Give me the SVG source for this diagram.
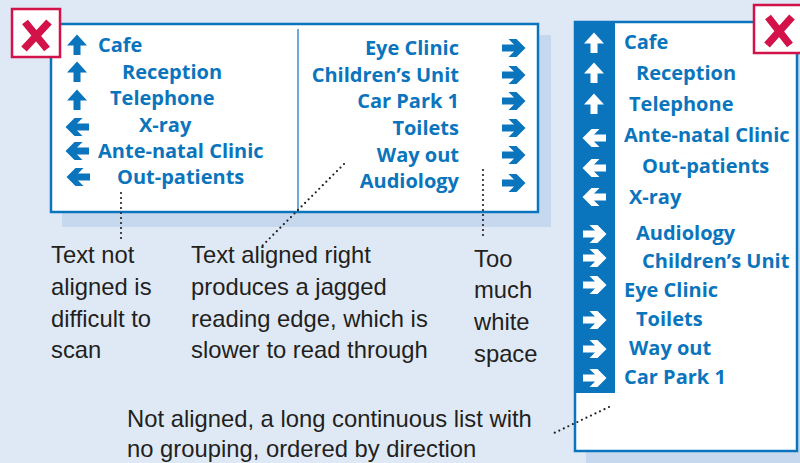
<svg xmlns="http://www.w3.org/2000/svg" width="800" height="463" viewBox="0 0 800 463">
<style>
.sign{font-family:"Open Sans","Liberation Sans",sans-serif;font-weight:bold;font-size:20px;fill:#0a74bd}
.cap{font-family:"Liberation Sans",Arial,sans-serif;font-size:23.8px;fill:#231f20}
.frame{fill:#fff;stroke:#0a74bd;stroke-width:2.5}
.shadow{fill:#c6d8ee}
.badge{fill:#fff;stroke:#d3124a;stroke-width:2.5}
.xm{stroke:#d3124a;stroke-width:7.5;stroke-linecap:butt;fill:none}
.dot{stroke:#231f20;stroke-width:2.2;stroke-dasharray:0 5;stroke-linecap:round;fill:none}
.ab{fill:#0a74bd}
.aw{fill:#fff}
</style>
<defs>
<path id="ar" d="M-12,-3.5 H0 L-5.5,-9 H2.5 L11.5,0 L2.5,9 H-5.5 L0,3.5 H-12 Z"/>
<path id="au" d="M0,-10.5 L10,0.5 L3.5,0.5 L3.5,10 L-3.5,10 L-3.5,0.5 L-10,0.5 Z"/>
</defs>
<rect width="800" height="463" fill="#dfe9f6"/>

<g id="left-sign">
<rect class="shadow" x="62" y="35" width="489" height="192"/>
<rect class="frame" x="51" y="24" width="487" height="188"/>
<line x1="298" y1="29" x2="298" y2="212" stroke="#0a74bd" stroke-width="1.2"/>
<use href="#au" class="ab" x="77" y="45"/>
<use href="#au" class="ab" x="77" y="72"/>
<use href="#au" class="ab" x="77" y="100"/>
<use href="#ar" class="ab" transform="translate(77,127) rotate(180)"/>
<use href="#ar" class="ab" transform="translate(77,151) rotate(180)"/>
<use href="#ar" class="ab" transform="translate(78,177) rotate(180)"/>
<text class="sign" x="98" y="52">Cafe</text>
<text class="sign" x="122" y="79">Reception</text>
<text class="sign" x="110" y="105">Telephone</text>
<text class="sign" x="139" y="132">X-ray</text>
<text class="sign" x="98" y="158">Ante-natal Clinic</text>
<text class="sign" x="117" y="184">Out-patients</text>
<text class="sign" x="459" y="55" text-anchor="end">Eye Clinic</text>
<text class="sign" x="459" y="82" text-anchor="end">Children’s Unit</text>
<text class="sign" x="459" y="108" text-anchor="end">Car Park 1</text>
<text class="sign" x="459" y="135" text-anchor="end">Toilets</text>
<text class="sign" x="459" y="162" text-anchor="end">Way out</text>
<text class="sign" x="459" y="188" text-anchor="end">Audiology</text>
<use href="#ar" class="ab" x="514" y="48"/>
<use href="#ar" class="ab" x="514" y="75"/>
<use href="#ar" class="ab" x="514" y="101"/>
<use href="#ar" class="ab" x="514" y="128"/>
<use href="#ar" class="ab" x="514" y="155"/>
<use href="#ar" class="ab" x="514" y="183"/>
</g>

<g id="badge-left">
<rect class="badge" x="12" y="9" width="48" height="48"/>
<path class="xm" d="M25,22 L47,49 M49,22 L24,49"/>
</g>

<g id="right-sign">
<rect class="shadow" x="586" y="33" width="214" height="430"/>
<rect class="frame" x="575" y="22" width="222" height="429"/>
<rect x="575" y="22" width="40" height="371" fill="#0a74bd"/>
<use href="#au" class="aw" x="594" y="43"/>
<use href="#au" class="aw" x="594" y="73"/>
<use href="#au" class="aw" x="594" y="104"/>
<use href="#ar" class="aw" transform="translate(594,138) rotate(180)"/>
<use href="#ar" class="aw" transform="translate(594,168) rotate(180)"/>
<use href="#ar" class="aw" transform="translate(594,197) rotate(180)"/>
<use href="#ar" class="aw" x="595" y="234"/>
<use href="#ar" class="aw" x="595" y="258"/>
<use href="#ar" class="aw" x="595" y="285"/>
<use href="#ar" class="aw" x="595" y="320"/>
<use href="#ar" class="aw" x="595" y="349"/>
<use href="#ar" class="aw" x="595" y="378"/>
<text class="sign" x="624" y="49">Cafe</text>
<text class="sign" x="636" y="80">Reception</text>
<text class="sign" x="629" y="111">Telephone</text>
<text class="sign" x="624" y="142">Ante-natal Clinic</text>
<text class="sign" x="642" y="173">Out-patients</text>
<text class="sign" x="629" y="204">X-ray</text>
<text class="sign" x="636" y="240">Audiology</text>
<text class="sign" x="642" y="268">Children’s Unit</text>
<text class="sign" x="624" y="297">Eye Clinic</text>
<text class="sign" x="636" y="326">Toilets</text>
<text class="sign" x="629" y="355">Way out</text>
<text class="sign" x="624" y="384">Car Park 1</text>
</g>

<g id="badge-right">
<rect class="badge" x="754" y="5" width="48" height="48"/>
<path class="xm" d="M768,17 L790,45 M792,17 L767,45"/>
</g>

<g id="connectors">
<line class="dot" x1="121" y1="193" x2="121" y2="241"/>
<line class="dot" x1="344" y1="164" x2="262" y2="246"/>
<line class="dot" x1="483" y1="170" x2="483" y2="240"/>
<line class="dot" x1="609" y1="407" x2="552" y2="434"/>
</g>

<g id="captions">
<text class="cap" x="51" y="263">Text not</text>
<text class="cap" x="51" y="295">aligned is</text>
<text class="cap" x="51" y="327">difficult to</text>
<text class="cap" x="51" y="358">scan</text>
<text class="cap" x="191" y="263">Text aligned right</text>
<text class="cap" x="191" y="295">produces a jagged</text>
<text class="cap" x="191" y="327">reading edge, which is</text>
<text class="cap" x="191" y="358">slower to read through</text>
<text class="cap" x="474" y="267">Too</text>
<text class="cap" x="474" y="298">much</text>
<text class="cap" x="474" y="330">white</text>
<text class="cap" x="474" y="362">space</text>
<text class="cap" x="127" y="427">Not aligned, a long continuous list with</text>
<text class="cap" x="127" y="457">no grouping, ordered by direction</text>
</g>
</svg>
